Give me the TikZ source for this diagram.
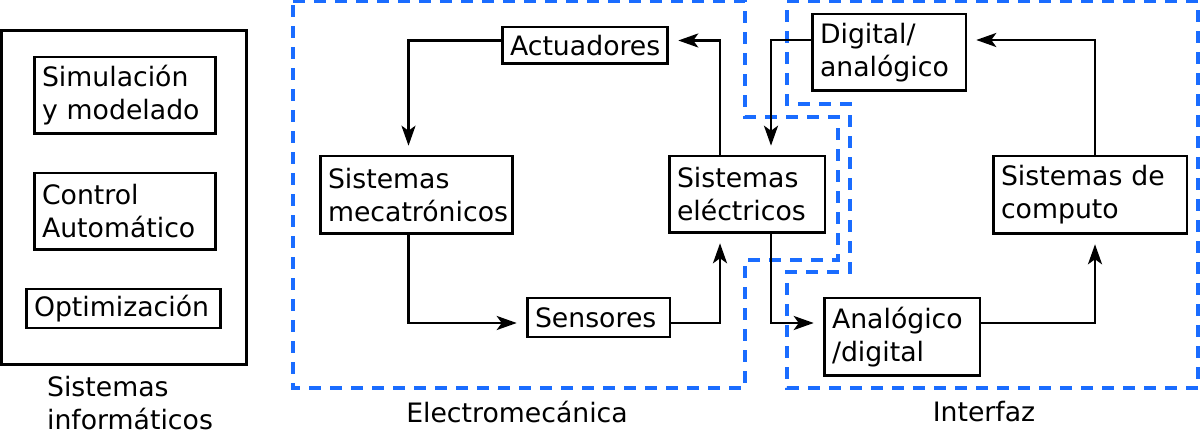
\documentclass[tikz,border=0pt]{standalone}
\usepackage{fontspec}
\setmainfont{DejaVu Sans}
\usepackage{xcolor}
\usepackage{tikz}
\usetikzlibrary{arrows.meta,calc,positioning}
\definecolor{zoneblue}{RGB}{26,108,255}

\begin{document}
\begin{tikzpicture}[x=0.02cm,y=-0.02cm,
    every node/.style={font=\fontsize{15.2pt}{18.8pt}\selectfont},
    blk/.style={draw,line width=1.7pt,align=left,inner xsep=0.16cm,inner ysep=0pt},
    zone/.style={draw=zoneblue,line width=1.8pt,dash pattern=on 0.24cm off 0.18cm},
    arr/.style={line width=1.5pt,-{Stealth[length=0.4cm,width=0.28cm,inset=0.1cm]},shorten >=5pt}]
    \useasboundingbox (0,0) rectangle (1200,435);
    % sistemas informaticos
    \node[draw,line width=1.7pt,minimum width=4.92cm,minimum height=6.7cm] (info) at (124,197.5) {};
    \node[blk,text width=3.32cm,minimum height=1.54cm] (sim) at (125,95.5) {Simulación\\y modelado};
    \node[blk,text width=3.32cm,minimum height=1.54cm] (ctrl) at (125,211.5) {Control\\Automático};
    \node[blk,text width=3.58cm,minimum height=0.78cm] (opt) at (123.5,308.5) {Optimización};
    \node[align=left] (infolbl) at (130,403) {Sistemas\\informáticos};
    % zonas
    \draw[zone] (293,1.5) -- (745,1.5) -- (745,117) -- (838,117) -- (838,260)
      -- (745,260) -- (745,388) -- (293,388) -- cycle;
    \draw[zone] (787,1.5) -- (1198,1.5) -- (1198,388) -- (787,388) -- (787,272)
      -- (850,272) -- (850,104) -- (787,104) -- cycle;
    \node (emlbl) at (517,412) {Electromecánica};
    \node (iflbl) at (984,412) {Interfaz};
    % bloques
    \node[blk,text width=3.0cm,minimum height=0.74cm] (act) at (585,45.5) {Actuadores};
    \node[blk,text width=3.54cm,minimum height=1.56cm] (meca) at (416.5,195) {Sistemas\\mecatrónicos};
    \node[blk,text width=2.54cm,minimum height=0.78cm] (sens) at (598.5,317.5) {Sensores};
    \node[blk,text width=2.8cm,minimum height=1.54cm] (elec) at (747,194.5) {Sistemas\\eléctricos};
    \node[blk,text width=2.76cm,minimum height=1.54cm] (dig) at (889,52.5) {Digital/\\analógico};
    \node[blk,text width=2.8cm,minimum height=1.56cm] (ana) at (902,337) {Analógico\\/digital};
    \node[blk,text width=3.56cm,minimum height=1.56cm] (comp) at (1090,195) {Sistemas de\\computo};
    % conexiones
    \draw[arr] ($(act.west)+(0,-5)$) -| ($(meca.north)+(-8,0)$);
    \draw[arr] ($(meca.south)+(-8,0)$) |- ($(sens.west)+(0,5.5)$);
    \draw[arr] ($(sens.east)+(0,5.5)$) -| ($(elec.south)+(-27,0)$);
    \draw[arr] ($(elec.north)+(-27,0)$) |- ($(act.east)+(0,-5)$);
    \draw[arr] ($(dig.west)+(0,-12.5)$) -| ($(elec.north)+(24,0)$);
    \draw[arr] ($(elec.south)+(24,0)$) |- ($(ana.west)+(0,-14)$);
    \draw[arr] ($(ana.east)+(0,-14)$) -| ($(comp.south)+(5,0)$);
    \draw[arr] ($(comp.north)+(5,0)$) |- ($(dig.east)+(0,-12.5)$);
\end{tikzpicture}
\end{document}
